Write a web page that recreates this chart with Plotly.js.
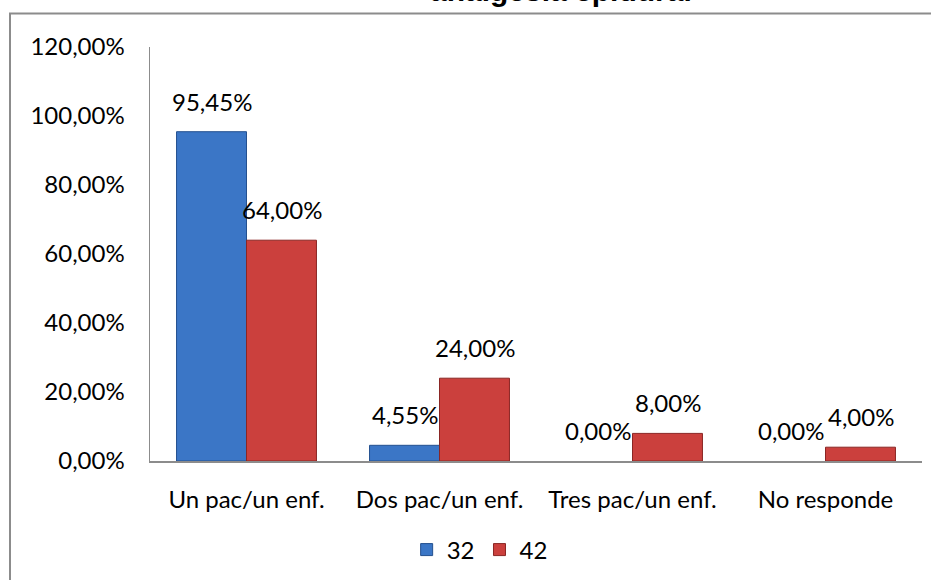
<!DOCTYPE html>
<html>
<head>
<meta charset="utf-8">
<script src="https://cdn.plot.ly/plotly-3.0.1.min.js"></script>
<style>html,body{margin:0;padding:0;background:#fff;}#chart{width:931px;height:580px;}</style>
</head>
<body>
<div id="chart"></div>
<script>
const categories = ["Un pac/un enf.", "Dos pac/un enf.", "Tres pac/un enf.", "No responde"];
const seriesNames = ["32", "42"];
const values32 = [95.45, 4.55, 0.00, 0.00];
const values42 = [64.00, 24.00, 8.00, 4.00];
const labels32 = ["95,45%", "4,55%", "0,00%", "0,00%"];
const labels42 = ["64,00%", "24,00%", "8,00%", "4,00%"];
const yTicks = [0, 20, 40, 60, 80, 100, 120];
const yTickText = ["0,00%", "20,00%", "40,00%", "60,00%", "80,00%", "100,00%", "120,00%"];
const titleText = "analgesia epidural";

const FONT = "Lato, 'Open Sans', sans-serif";
const FS = 24;

const traces = [
  {type: "bar", name: seriesNames[0], x: categories, y: values32,
   marker: {color: "#3B76C6", line: {color: "#24508F", width: values32.map(v => v > 0 ? 1 : 0)}}, hoverinfo: "skip"},
  {type: "bar", name: seriesNames[1], x: categories, y: values42,
   marker: {color: "#CB403D", line: {color: "#8A2624", width: values42.map(v => v > 0 ? 1 : 0)}}, hoverinfo: "skip"}
];

const annotations = [];
[[values32, labels32, -35], [values42, labels42, 35]].forEach(([vals, labs, dx]) => {
  vals.forEach((v, i) => {
    annotations.push({x: categories[i], y: v, xref: "x", yref: "y", text: labs[i],
      showarrow: false, xshift: dx, yshift: 14, yanchor: "bottom", xanchor: "center",
      font: {family: FONT, size: FS, color: "#000"}});
  });
});
annotations.push({x: 0.5, y: 1.091, xref: "paper", yref: "paper", text: "<b>" + titleText + "</b>",
  showarrow: false, yanchor: "bottom", xanchor: "center", xshift: 25,
  font: {family: "'Liberation Sans', Arial, sans-serif", size: 30, color: "#000"}});

const layout = {
  width: 931, height: 580,
  margin: {l: 150, r: 9, t: 47, b: 118},
  paper_bgcolor: "#fff", plot_bgcolor: "#fff",
  barmode: "group", bargap: 0.275, bargroupgap: 0,
  font: {family: FONT, size: FS, color: "#000"},
  xaxis: {type: "category", showline: true, linecolor: "#8C8C8C", linewidth: 1.5,
    ticks: "", ticklabelstandoff: 17, showgrid: false, zeroline: false,
    tickfont: {family: FONT, size: FS, color: "#000"}},
  yaxis: {range: [0, 120], tickmode: "array", tickvals: yTicks, ticktext: yTickText,
    showline: true, linecolor: "#8C8C8C", linewidth: 1.5, ticks: "", ticklabelstandoff: 19,
    showgrid: false, zeroline: false, tickfont: {family: FONT, size: FS, color: "#000"}},
  showlegend: true,
  legend: {orientation: "h", x: 0.427, xanchor: "center", y: -0.212, yanchor: "middle",
    font: {family: FONT, size: FS, color: "#000"}, itemwidth: 30, tracegroupgap: 0},
  annotations: annotations,
  shapes: [{type: "rect", xref: "paper", yref: "paper",
    x0: (10 - 150) / 772, x1: 1.5, y0: -1, y1: (462 - 13.5) / 415,
    line: {color: "#8C8C8C", width: 2}, fillcolor: "rgba(0,0,0,0)", layer: "below"}]
};

Plotly.newPlot("chart", traces, layout, {displayModeBar: false, staticPlot: true});
</script>
</body>
</html>
